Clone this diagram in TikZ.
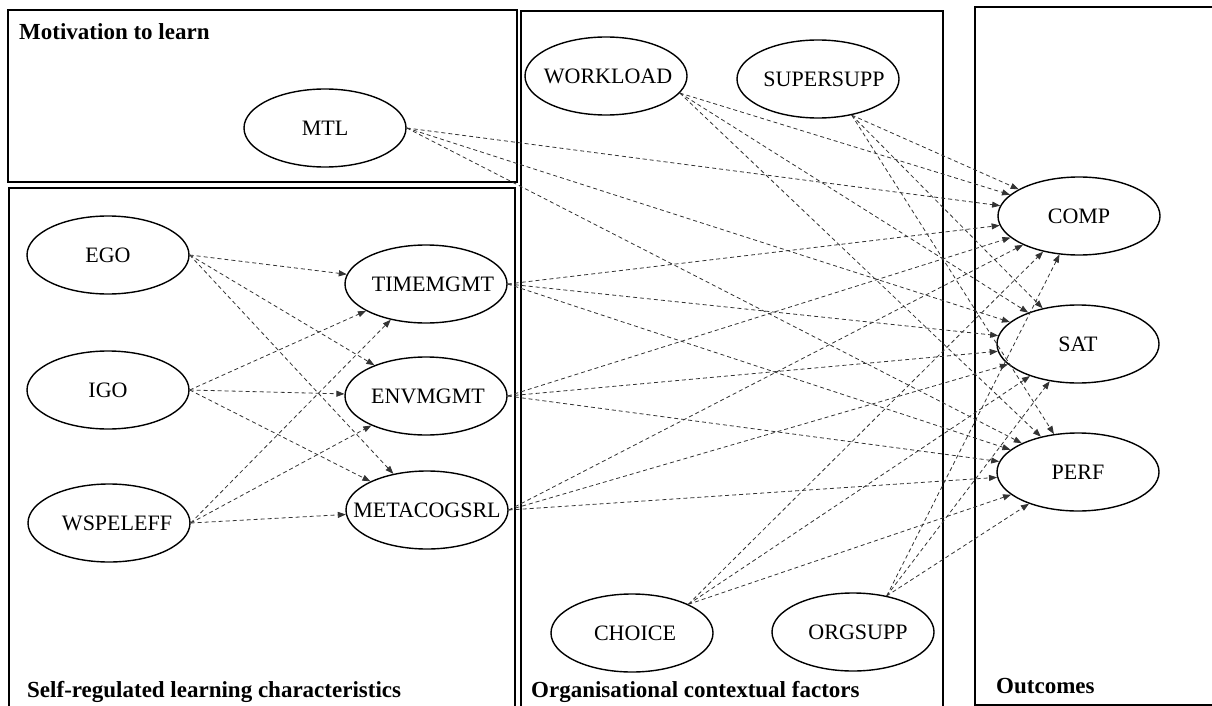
\documentclass[tikz,border=0pt]{standalone}
\usepackage{fontspec}
\setmainfont{Liberation Serif}
\usetikzlibrary{arrows.meta,shapes.geometric}
% label set inside an ellipse of fixed size; optional leading space nudges it right
\newcommand\lvar[2][0pt]{\makebox[0pt]{\hspace*{#1}\raisebox{-3pt}{#2}}}
\begin{document}
\begin{tikzpicture}[x=1pt,y=-1pt,
  panel/.style={line width=1.6pt},
  latent/.style={draw, ellipse, line width=1.4pt, minimum width=162pt,
    minimum height=78pt, inner sep=0pt, fill=white,
    font=\fontsize{22}{26}\selectfont},
  ptitle/.style={anchor=base west, inner sep=0pt,
    font=\bfseries\fontsize{23}{27}\selectfont},
  causal/.style={dash pattern=on 4pt off 3pt, line width=0.8pt, black!80,
    -{Triangle[length=8pt,width=6pt]}}
]
\useasboundingbox (0,0) rectangle (1212,706);
\clip (0,0) rectangle (1212,706);

% panels
\draw[panel] (8,10) rectangle (517,182);
\draw[panel] (9,188) rectangle (515,712);
\draw[panel] (521,11) rectangle (943,712);
\draw[panel] (975,7) rectangle (1230,705);

% panel titles
\node[ptitle] (tmot) at (19,40) {Motivation to learn};
\node[ptitle] (tsrl) at (27,697) {Self-regulated learning characteristics};
\node[ptitle] (torg) at (531,697) {Organisational contextual factors};
\node[ptitle] (tout) at (996,693) {Outcomes};

% latent variables
\node[latent] (mtl) at (325,128) {\lvar{MTL}};
\node[latent] (ego) at (108,255) {\lvar{EGO}};
\node[latent] (igo) at (108,390) {\lvar{IGO}};
\node[latent] (wsp) at (109,523) {\lvar[16pt]{WSPELEFF}};
\node[latent] (time) at (426,284) {\lvar[14pt]{TIMEMGMT}};
\node[latent] (env) at (426,396) {\lvar[4pt]{ENVMGMT}};
\node[latent] (meta) at (427,510) {\lvar{METACOGSRL}};
\node[latent] (work) at (606,76) {\lvar[4pt]{WORKLOAD}};
\node[latent] (sup) at (818,79) {\lvar[12pt]{SUPERSUPP}};
\node[latent] (choice) at (632,633) {\lvar[6pt]{CHOICE}};
\node[latent] (org) at (853,632) {\lvar[10pt]{ORGSUPP}};
\node[latent] (comp) at (1079,216) {\lvar{COMP}};
\node[latent] (sat) at (1078,344) {\lvar{SAT}};
\node[latent] (perf) at (1078,472) {\lvar{PERF}};

% goal orientation and self-efficacy -> self-regulation
\foreach \s in {ego,igo,wsp}
  \foreach \t in {time,env,meta}
    \draw[causal] (\s.east) -- (\t);

% predictors -> outcomes
\foreach \s/\a in {mtl/east,time/east,env/east,meta/east,work/-13,sup/-47,choice/27,org/47}
  \foreach \t in {comp,sat,perf}
    \draw[causal] (\s.\a) -- (\t);
\end{tikzpicture}
\end{document}
